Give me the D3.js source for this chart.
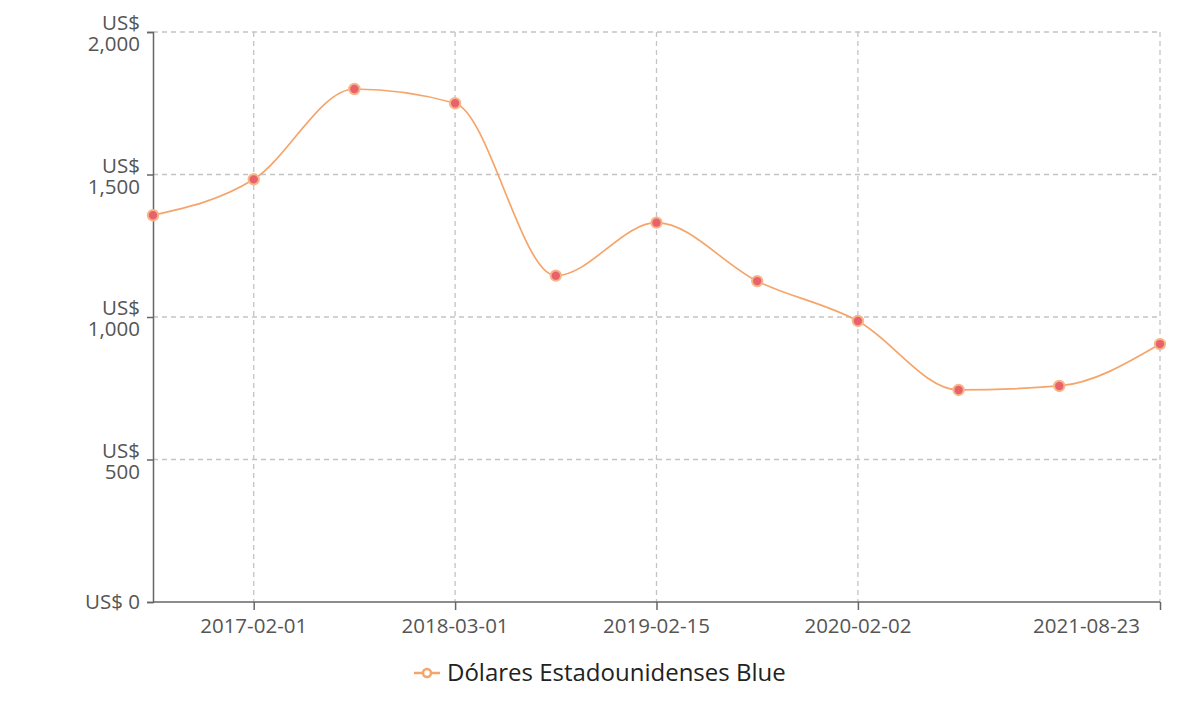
<!DOCTYPE html>
<html><head><meta charset="utf-8">
<script src="https://cdn.jsdelivr.net/npm/d3@7"></script>
<style>
body{margin:0;background:#fff;}
svg{display:block;font-family:"Open Sans",sans-serif;}
</style></head>
<body><svg id="c" width="1200" height="702"></svg>
<script>
const categories = ["2016-08-01","2017-02-01","2017-08-01","2018-03-01","2018-08-15","2019-02-15","2019-08-01","2020-02-02","2020-09-01","2021-03-01","2021-08-23"];
const values = [1357, 1483, 1800, 1750, 1145, 1331, 1126, 986, 744, 758, 905];
const shownTicks = ["2017-02-01","2018-03-01","2019-02-15","2020-02-02","2021-08-23"];
const yTicks = [0, 500, 1000, 1500, 2000];
const seriesName = "Dólares Estadounidenses Blue";

const svg = d3.select("#c");
const L = 153, R = 1160, T = 32, B = 602;
const x = d3.scalePoint().domain(categories).range([L, R]);
const y = d3.scaleLinear().domain([0, 2000]).range([B, T]);
const axisColor = "#666", textColor = "#555", gridColor = "#c4c4c4";
const fs = 20.5;

// grid
const g = svg.append("g");
g.selectAll(".hg").data(yTicks.filter(d => d > 0)).enter().append("line")
  .attr("x1", L).attr("x2", R).attr("y1", d => y(d)).attr("y2", d => y(d))
  .attr("stroke", gridColor).attr("stroke-width", 1.3).attr("stroke-dasharray", "5,4");
g.selectAll(".vg").data(shownTicks).enter().append("line")
  .attr("x1", d => x(d)).attr("x2", d => x(d)).attr("y1", T).attr("y2", B)
  .attr("stroke", gridColor).attr("stroke-width", 1.3).attr("stroke-dasharray", "5,4");

// y axis
const ya = svg.append("g").attr("transform", `translate(${L},0)`)
  .call(d3.axisLeft(y).tickValues(yTicks).tickSize(6).tickFormat(""));
ya.select(".domain").attr("stroke", axisColor).attr("stroke-width", 1.5);
ya.selectAll(".tick line").attr("stroke", axisColor).attr("stroke-width", 1.5);
const fmt = d3.format(",");
yTicks.forEach(v => {
  const t = svg.append("text").attr("x", 140).attr("text-anchor", "end")
    .attr("fill", textColor).attr("font-size", fs);
  if (v === 0) {
    t.attr("y", y(v) + 7).text("US$ " + fmt(v));
  } else {
    t.append("tspan").attr("x", 140).attr("y", y(v) - 2).text("US$");
    t.append("tspan").attr("x", 140).attr("y", y(v) + 19).text(fmt(v));
  }
});

// x axis
const xa = svg.append("g").attr("transform", `translate(0,${B})`)
  .call(d3.axisBottom(x).tickValues(shownTicks).tickSize(8).tickSizeOuter(0).tickFormat(""));
xa.select(".domain").attr("stroke", axisColor).attr("stroke-width", 1.5)
  .attr("d", `M${L},0H${R}`);
xa.selectAll(".tick line").attr("stroke", axisColor).attr("stroke-width", 1.5);
shownTicks.forEach((c, i) => {
  const last = i === shownTicks.length - 1;
  svg.append("text").attr("x", last ? x(c) - 20 : x(c)).attr("y", B + 31)
    .attr("text-anchor", last ? "end" : "middle")
    .attr("fill", textColor).attr("font-size", fs).text(c);
});

// line
const data = categories.map((c, i) => ({c, v: values[i]}));
svg.append("path").datum(data)
  .attr("fill", "none").attr("stroke", "#f5a56b").attr("stroke-width", 1.7)
  .attr("d", d3.line().x(d => x(d.c)).y(d => y(d.v)).curve(d3.curveMonotoneX));
svg.selectAll(".pt").data(data).enter().append("circle")
  .attr("cx", d => x(d.c)).attr("cy", d => y(d.v)).attr("r", 5.2)
  .attr("fill", "#e9626b").attr("stroke", "#f7b58a").attr("stroke-width", 2);

// legend
const lg = svg.append("g");
lg.append("line").attr("x1", 414).attr("x2", 440).attr("y1", 673).attr("y2", 673)
  .attr("stroke", "#f5a56b").attr("stroke-width", 2.5);
lg.append("circle").attr("cx", 427).attr("cy", 673).attr("r", 4)
  .attr("fill", "#fff").attr("stroke", "#f5a56b").attr("stroke-width", 2.5);
lg.append("text").attr("x", 447).attr("y", 681).attr("font-size", 24).attr("fill", "#222").text(seriesName);
</script></body></html>
